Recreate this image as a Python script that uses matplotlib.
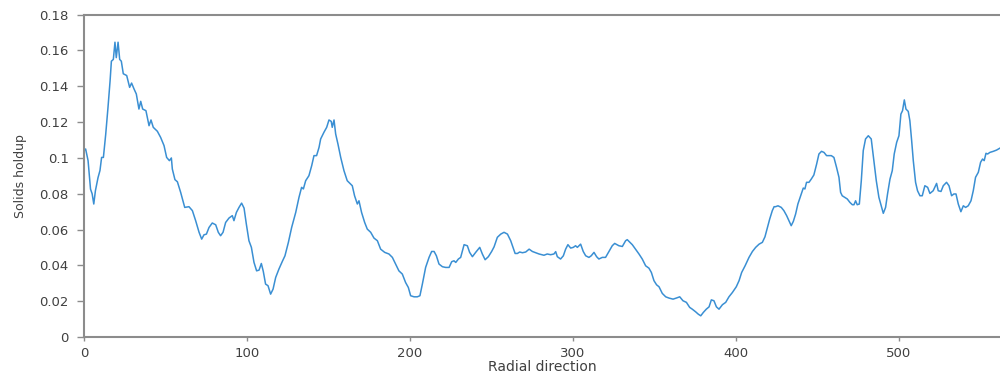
import matplotlib
matplotlib.use("Agg")
import matplotlib.pyplot as plt
from matplotlib.ticker import FuncFormatter

# =========================
# DATA
# =========================
radial = [
    0, 1, 2.5, 4, 5, 6, 7, 8.6, 9.8, 10.8, 11.9, 13.3, 14.7, 16, 16.8, 18, 19,
    19.8, 20.9, 21.9, 22.9, 24.1, 26.2, 28, 29.2, 30.7, 32.1, 33.7, 34.8, 36, 38,
    39.9, 41.1, 42.5, 45, 47, 49.1, 50.7, 52.4, 53.6, 54.2, 55.8, 57.3, 59.3,
    61.8, 64.4, 66.5, 68.5, 70.6,
    72.2, 73.6, 75.1, 76.7, 78.7, 80.8, 82.4, 83.8, 85.3, 86.9, 89, 91, 92,
    93.5, 95.1, 96.7, 98.2, 99.6, 101.2, 102.7, 104.3, 105.9, 107.4, 108.8, 110,
    111.4, 112.9, 114.5, 116, 117.6, 119.6, 121.7, 123.3, 125.4, 127.4, 129.9,
    131.9, 133.5, 134.6, 136, 138, 139.7, 141.1,
    142.7, 144.2, 145.2, 147.2, 148.9, 150.3, 151.7, 152.3, 153.4, 154.4, 155.8,
    157.5, 159.5, 161.5, 164.6, 166, 167.7, 168.7, 170.3, 172.2, 173.8, 175.9,
    177.9, 180, 182, 184.5, 187.1, 189.2, 191.2, 193.2, 195.3, 197.3, 199,
    200.4, 202.5, 204.5, 206.1, 207.6, 209.6, 211.7,
    213.3, 214.8, 216.2, 217.8, 219.9, 221.9, 224, 225.6, 227, 228.1, 229.7,
    231.1, 233.2, 235.2, 236.6, 238.3, 240.3, 242.8, 244.4, 246.1, 248.1, 250.1,
    251.6, 253.6, 255.7, 257.7, 259.8, 261.8, 263.2, 264.5, 265.9, 267.3, 269,
    271, 273.1, 275.1, 277.1, 279.2, 282.2,
    284.2, 286.3, 288.3, 289.4, 290.4, 292.4, 294.1, 295.5, 296.9, 298.6, 300.2,
    301.6, 302.7, 304.7, 306.3, 307.8, 309.8, 311.2, 312.9, 314.5, 315.9, 318,
    320, 322.1, 324.1, 325.6, 328.2, 330.3, 332.3, 333.3, 335, 336.4, 338.4,
    340.5, 342.5, 344.6, 346.6, 348.1, 349.7, 351.3, 352.8,
    354.8, 356.9, 358.9, 361.4, 363.4, 365.5, 367.5, 369.6, 371.6, 373.2, 375.3,
    376.9, 378.4, 380, 381.8, 383.5, 384.9, 386.5, 388, 389.6, 391.7, 393.7,
    395.7, 397.8, 400.2, 401.9, 403.5, 405.6, 408, 410.1, 412.1, 414.2, 416.2,
    417.8, 419.3, 420.7, 422.3, 423.4,
    424.3, 425.8, 427.8, 429.4, 431.1, 432.5, 433.9, 435.2, 436.6, 438, 439.7,
    441.3, 442.3, 443.3, 444.8, 446.2, 447.8, 449.5, 450.9, 452.5, 454, 455.6,
    457.1, 458.5, 460.1, 461.7, 463.2, 464.2, 465.2, 466.7, 468.3, 469.9, 471.4,
    472.4, 473.4, 474.4, 475.7, 476.9, 478.1, 479.5, 481.2, 483, 484.6, 486.1,
    487.7, 489.1, 490.4, 491.8,
    493, 494.5, 495.9, 497.1, 498.6, 500, 501.2, 502.2, 503.3, 504.3, 505.7,
    506.7, 507.8, 508.8, 510.2, 511.4, 512.9, 514.3, 515.9, 517.6, 519, 521,
    523.1, 524.1, 525.8, 527.2, 529.2, 530.7, 532.3, 533.7, 535, 536.4, 538,
    539.5, 540.9, 542.5, 544.2, 545.6, 547, 548.7, 550.1, 551.3, 552.3, 553.4,
    554.4, 555.8, 557.9, 559.9, 562,
]

holdup = [
    0.104, 0.105, 0.0985, 0.0826, 0.080, 0.0743, 0.0817, 0.089, 0.093, 0.1003,
    0.1003, 0.113, 0.128, 0.143, 0.154, 0.155, 0.1646, 0.156, 0.1646, 0.155,
    0.154, 0.147, 0.146, 0.1394, 0.1418, 0.1385, 0.1357, 0.1273, 0.1316, 0.1273,
    0.1264, 0.118, 0.1212, 0.1171, 0.1149, 0.1115, 0.1069, 0.1003, 0.0985, 0.1,
    0.0938, 0.0879, 0.0867, 0.0808, 0.0724, 0.0728, 0.0706, 0.065, 0.0585,
    0.0547, 0.0571, 0.0575, 0.0612, 0.0637, 0.0627, 0.0585, 0.0566, 0.0585,
    0.064, 0.0665, 0.0678, 0.065, 0.0696, 0.0724, 0.0748, 0.072, 0.0631, 0.0538,
    0.0501, 0.0417, 0.037, 0.0374, 0.0411, 0.0367, 0.0296, 0.0287, 0.024, 0.0268,
    0.0333, 0.038, 0.0423, 0.0454, 0.0529, 0.0612, 0.0696, 0.078, 0.0836,
    0.0827, 0.0873, 0.0901, 0.0957, 0.1013,
    0.1013, 0.1059, 0.1106, 0.1143, 0.1171, 0.1212, 0.1204, 0.1171, 0.1212,
    0.1134, 0.1078, 0.1003, 0.0929, 0.0873, 0.0845, 0.0789, 0.0743, 0.0761,
    0.0696, 0.064, 0.0603, 0.0585, 0.0553, 0.0538, 0.0491, 0.0473, 0.0464,
    0.0445, 0.0408, 0.037, 0.0352, 0.0305, 0.0277, 0.0231, 0.0225, 0.0225,
    0.0231, 0.0296, 0.0389, 0.0445,
    0.0478, 0.0478, 0.0454, 0.0408, 0.0393, 0.0389, 0.0389, 0.0421, 0.0426,
    0.0417, 0.0436, 0.0445, 0.0516, 0.051, 0.0473, 0.0449, 0.0473, 0.0501,
    0.0464, 0.0432, 0.0449, 0.0478, 0.0504, 0.0557, 0.0575, 0.0585, 0.0575,
    0.0538, 0.0501, 0.0467, 0.0467, 0.0475, 0.0471, 0.0475, 0.0491, 0.0478,
    0.0471, 0.0464, 0.0457,
    0.0464, 0.046, 0.0464, 0.0477, 0.0449, 0.0436, 0.0454, 0.0491, 0.0516,
    0.0497, 0.0501, 0.051, 0.0501, 0.0519, 0.0478, 0.0454, 0.0445, 0.0454,
    0.0473, 0.0449, 0.0436, 0.0445, 0.0445, 0.0478, 0.051, 0.0523, 0.051,
    0.0506, 0.0538, 0.0544, 0.0529, 0.0516, 0.0491, 0.0464, 0.0436, 0.0398,
    0.0385, 0.0361, 0.0315, 0.0292, 0.0281,
    0.0244, 0.0225, 0.0218, 0.0212, 0.0218, 0.0225, 0.0203, 0.0194, 0.0166,
    0.0156, 0.0141, 0.0128, 0.0119, 0.0138, 0.0156, 0.0169, 0.0208, 0.0203,
    0.0169, 0.0156, 0.0181, 0.0194, 0.0225, 0.0249, 0.0281, 0.0315, 0.0361,
    0.0398, 0.0445, 0.0478, 0.0501, 0.0519, 0.0529, 0.056, 0.0612, 0.0659,
    0.0706, 0.0728,
    0.0728, 0.0733, 0.0724, 0.0706, 0.0678, 0.065, 0.0622, 0.0646, 0.0687,
    0.0743, 0.0789, 0.0832, 0.0827, 0.0864, 0.0864, 0.0882, 0.0905, 0.0966,
    0.1022, 0.1037, 0.1031, 0.1013, 0.1013, 0.1013, 0.1003, 0.0948, 0.0892,
    0.0808, 0.0789, 0.078, 0.0771, 0.0752, 0.0739, 0.0739, 0.0761, 0.0739,
    0.0743, 0.0873, 0.1041, 0.1106, 0.1124, 0.1106, 0.0985, 0.0873, 0.078,
    0.0733, 0.0691, 0.0724,
    0.0799, 0.0882, 0.0929, 0.1022, 0.1087, 0.1124, 0.1245, 0.1264, 0.1324,
    0.1273, 0.126, 0.1208, 0.1096, 0.0985, 0.0864, 0.0817, 0.0789, 0.0789,
    0.0845, 0.0836, 0.0802, 0.0817, 0.0858, 0.0817, 0.0813, 0.0845, 0.0864,
    0.0845, 0.0789, 0.0799, 0.0799, 0.0743, 0.07, 0.0733, 0.0724, 0.0733,
    0.0761, 0.0817, 0.0892, 0.092, 0.0976, 0.0994, 0.0985, 0.1026, 0.1022,
    0.1031, 0.1037, 0.1044, 0.1055,
]

y_ticks = [0, 0.02, 0.04, 0.06, 0.08, 0.1, 0.12, 0.14, 0.16, 0.18]
x_ticks = [0, 100, 200, 300, 400, 500]

# =========================
# PLOT
# =========================
fig = plt.figure(figsize=(10, 3.75), dpi=100)
ax = fig.add_axes([0.084, 0.101, 0.916, 0.86])

ax.plot(radial, holdup, color="#3a8fd3", linewidth=1.1)

ax.set_xlim(0, 562)
ax.set_ylim(0, 0.18)
ax.set_xticks(x_ticks)
ax.set_yticks(y_ticks)
ax.yaxis.set_major_formatter(FuncFormatter(lambda v, p: "%g" % round(v, 2)))

gray = "#8c8c8c"
for side in ["left", "bottom", "top"]:
    ax.spines[side].set_color(gray)
    ax.spines[side].set_linewidth(1.5)
ax.spines["right"].set_visible(False)

ax.tick_params(axis="both", colors=gray, labelcolor="#404040", labelsize=9.5)
ax.tick_params(axis="y", length=5, width=1, pad=6)
ax.tick_params(axis="x", length=3, width=1, pad=4)

ax.set_xlabel("Radial direction", fontsize=10, color="#404040", labelpad=0)
ax.set_ylabel("Solids holdup", fontsize=9, color="#404040", labelpad=9)

plt.savefig("out.png", dpi=100)
